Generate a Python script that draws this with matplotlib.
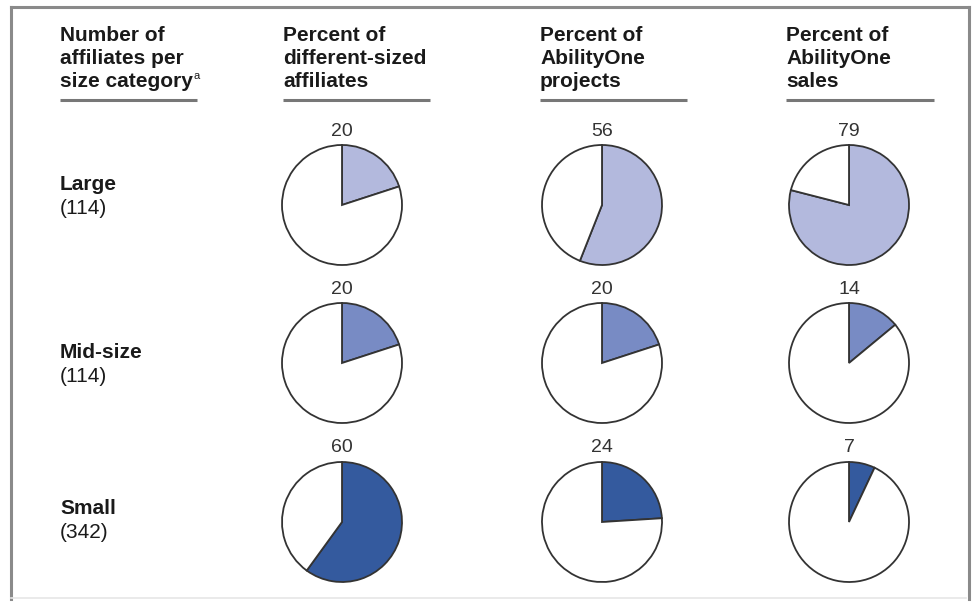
import matplotlib
matplotlib.use("Agg")
import matplotlib.pyplot as plt

# ---- data ----
headers = [["Number of", "affiliates per", "size category"],
           ["Percent of", "different-sized", "affiliates"],
           ["Percent of", "AbilityOne", "projects"],
           ["Percent of", "AbilityOne", "sales"]]
header_note = "a"
row_names = ["Large", "Mid-size", "Small"]
row_counts = ["(114)", "(114)", "(342)"]
pct_affiliates = [20, 20, 60]
pct_projects = [56, 20, 24]
pct_sales = [79, 14, 7]
row_colors = ["#b3b9dd", "#788bc4", "#345a9e"]

W, H = 975, 605
fig = plt.figure(figsize=(W / 100, H / 100), dpi=100)
fig.patch.set_facecolor("white")

base = fig.add_axes([0, 0, 1, 1])
base.set_xlim(0, W)
base.set_ylim(H, 0)
base.axis("off")

FONT = "Liberation Sans"

# frame
base.plot([11, 11], [7, 599], color="#8a8a8a", lw=2.2)
base.plot([11, 969], [7, 7], color="#8a8a8a", lw=2.2)
base.plot([969, 969], [7, 599], color="#8a8a8a", lw=2.2)
base.plot([11, 966], [598, 598], color="#e6e6e6", lw=1.2)

# headers
header_x = [60, 283, 540, 786]
underline_end = [197, 430, 687, 934]
line_base = [41, 64, 87]
renderer = fig.canvas.get_renderer()
for ci, (hx, ue, lines) in enumerate(zip(header_x, underline_end, headers)):
    for ly, ln in zip(line_base, lines):
        t = base.text(hx, ly, ln, fontsize=15, fontweight="bold", family=FONT,
                      color="#1a1a1a", ha="left", va="baseline")
    if ci == 0:
        bb = t.get_window_extent(renderer=renderer)
        x_end = base.transData.inverted().transform((bb.x1, 0))[0]
        base.text(x_end + 1, line_base[2] - 8, header_note, fontsize=8, family=FONT,
                  color="#1a1a1a", ha="left", va="baseline")
    base.plot([hx, ue], [100, 100], color="#777777", lw=2.2, solid_capstyle="butt")

# row labels
name_y = [184, 353, 508]
for ny, nm, cnt in zip(name_y, row_names, row_counts):
    base.text(60, ny, nm, fontsize=15, fontweight="bold", family=FONT,
              color="#1a1a1a", ha="left", va="center")
    base.text(60, ny + 24, cnt, fontsize=15, family=FONT,
              color="#1a1a1a", ha="left", va="center")

# pies
col_x = [342, 602, 849]
row_y = [205, 363, 522]
R = 60
half = 66
columns = [pct_affiliates, pct_projects, pct_sales]
for ci, (cx, vals) in enumerate(zip(col_x, columns)):
    for ri, (cy, v) in enumerate(zip(row_y, vals)):
        ax = fig.add_axes([(cx - half) / W, 1 - (cy + half) / H, 2 * half / W, 2 * half / H])
        ax.pie([v, 100 - v], colors=[row_colors[ri], "white"], startangle=90,
               counterclock=False, radius=1,
               wedgeprops=dict(edgecolor="#333333", linewidth=1.3))
        lim = half / R
        ax.set_xlim(-lim, lim)
        ax.set_ylim(-lim, lim)
        ax.set_aspect("equal")
        ax.axis("off")
        base.text(cx, cy - R - 14, str(v), fontsize=14, family=FONT,
                  color="#333333", ha="center", va="center")

fig.savefig("out.png", dpi=100, facecolor="white")
